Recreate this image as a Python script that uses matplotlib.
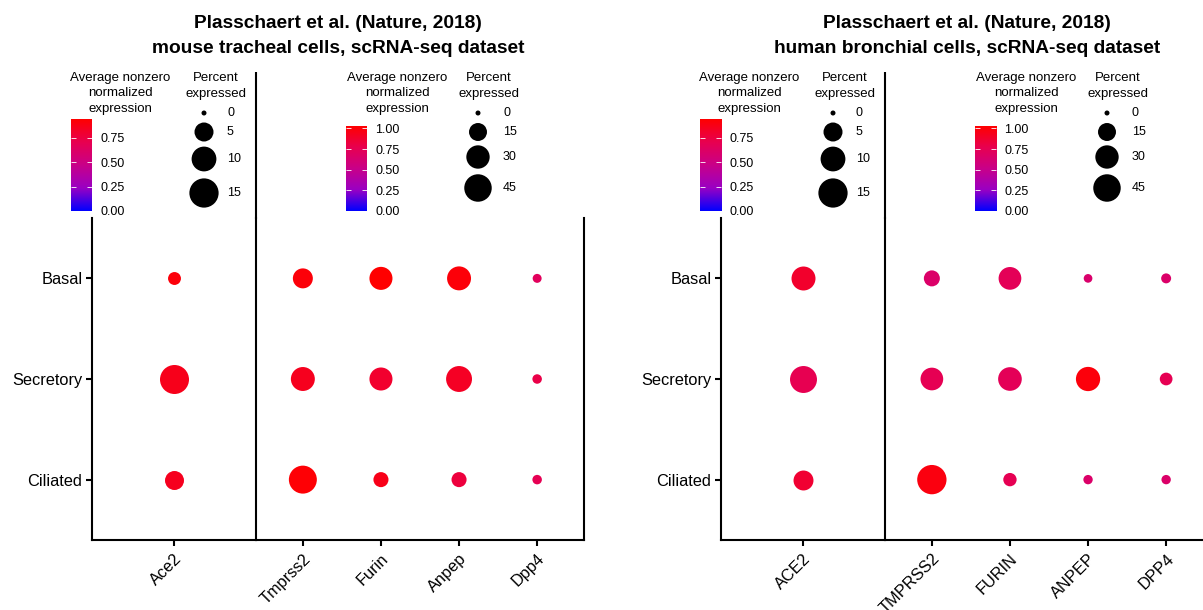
import numpy as np
import matplotlib
matplotlib.use('Agg')
import matplotlib.pyplot as plt
from matplotlib.colors import LinearSegmentedColormap

plt.rcParams['font.family'] = ['Liberation Sans', 'DejaVu Sans']

# ---- data (rows: Basal, Secretory, Ciliated) ----
cell_types = ['Basal', 'Secretory', 'Ciliated']

mouse_genes_a = ['Ace2']
mouse_genes_b = ['Tmprss2', 'Furin', 'Anpep', 'Dpp4']
mouse_pct_a = [[1.6], [14.7], [5.0]]
mouse_pct_b = [[20, 29, 32, 1.4],
               [32, 29, 39, 1.8],
               [47, 9, 9, 1.8]]
mouse_avg_a = [[0.91], [0.86], [0.85]]
mouse_avg_b = [[1.00, 1.03, 1.00, 0.72],
               [0.93, 0.88, 0.91, 0.80],
               [1.01, 0.95, 0.83, 0.76]]

human_genes_a = ['ACE2']
human_genes_b = ['TMPRSS2', 'FURIN', 'ANPEP', 'DPP4']
human_pct_a = [[9.2], [12.3], [5.7]]
human_pct_b = [[10.8, 28, 1.2, 2.2],
               [27.9, 31, 33, 5.3],
               [52.7, 6.2, 1.7, 1.7]]
human_avg_a = [[0.81], [0.70], [0.79]]
human_avg_b = [[0.66, 0.74, 0.65, 0.66],
               [0.76, 0.74, 0.99, 0.76],
               [0.98, 0.76, 0.66, 0.66]]

size_breaks_a = [0, 5, 10, 15]
size_breaks_b = [0, 15, 30, 45]
color_ticks_a = [0, 0.25, 0.5, 0.75]
color_ticks_b = [0, 0.25, 0.5, 0.75, 1.0]
vmax_a = 0.94
vmax_b = 1.03

W, H = 1203, 610
fig = plt.figure(figsize=(W / 100, H / 100), dpi=100)

cmap = LinearSegmentedColormap.from_list(
    'bluered', [(0, '#0000FF'), (0.25, '#9A00C3'), (0.5, '#C90089'),
                (0.75, '#E80050'), (1, '#FF0000')])


def dot_size(pct, k):
    d = 5 + k * np.sqrt(np.asarray(pct, dtype=float))  # diameter in px
    return (d * 0.72) ** 2


def rect(x0, x1, y0, y1):
    # pixel box (y from top) -> figure fraction
    return [x0 / W, 1 - y1 / H, (x1 - x0) / W, (y1 - y0) / H]


# overlay for legends / titles, in pixel units
ov = fig.add_axes([0, 0, 1, 1])
ov.set_xlim(0, W)
ov.set_ylim(H, 0)
ov.axis('off')

lw = 1.5


def dot_axes(x0, x1, genes, pct, avg, vmax, k, show_y, right_spine):
    ax = fig.add_axes(rect(x0, x1, 218, 540))
    ny = len(cell_types)
    for i, ct in enumerate(cell_types):
        yy = ny - i
        xs = np.arange(1, len(genes) + 1)
        ax.scatter(xs, [yy] * len(genes), s=dot_size(pct[i], k), c=avg[i],
                   cmap=cmap, vmin=0, vmax=vmax, linewidths=0, zorder=3)
    ax.set_xlim(0.4, len(genes) + 0.6)
    ax.set_ylim(0.4, ny + 0.6)
    ax.set_xticks(np.arange(1, len(genes) + 1))
    ax.set_xticklabels(genes, rotation=45, ha='right', va='top',
                       rotation_mode='anchor', fontsize=11.8)
    ax.set_yticks(np.arange(ny, 0, -1))
    ax.tick_params(width=lw, length=4, pad=3)
    ax.tick_params(axis='x', pad=4)
    if show_y:
        ax.set_yticklabels(cell_types, fontsize=11.8)
    else:
        ax.set_yticklabels([])
        ax.tick_params(axis='y', length=0)
    ax.spines['top'].set_visible(False)
    ax.spines['right'].set_visible(right_spine)
    for s in ['left', 'bottom', 'right']:
        ax.spines[s].set_linewidth(lw)
    ax.patch.set_alpha(0)
    return ax


def stacked(cx, lines, y0=78, step=15.5):
    for j, line in enumerate(lines):
        ov.text(cx, y0 + j * step, line, ha='center', va='center', fontsize=9.5)


def legend_block(cx_title, bx0, bx1, btop, vmax, cticks,
                 scx, sdx, sdy, slx, breaks, k):
    stacked(cx_title, ['Average nonzero', 'normalized', 'expression'])
    cax = fig.add_axes(rect(bx0, bx1, btop, 211))
    grad = np.linspace(0, vmax, 256).reshape(-1, 1)
    cax.imshow(grad, cmap=cmap, vmin=0, vmax=vmax, aspect='auto',
               origin='lower', extent=[0, 1, 0, vmax])
    cax.set_xticks([])
    cax.set_yticks(cticks)
    cax.set_yticklabels(['%.2f' % t for t in cticks], fontsize=9)
    cax.yaxis.tick_right()
    cax.tick_params(axis='y', direction='in', color='white', length=3.5,
                    width=0.6, left=True, right=True, pad=6)
    for s in cax.spines.values():
        s.set_visible(False)
    stacked(scx, ['Percent', 'expressed'])
    ov.scatter([sdx] * len(breaks), sdy, s=dot_size(breaks, k), c='black',
               linewidths=0)
    for b, yy in zip(breaks, sdy):
        ov.text(slx, yy, str(b), ha='left', va='center', fontsize=9)


def panel(dx, title1, title2, genes_a, genes_b, pct_a, pct_b, avg_a, avg_b,
          right_spine):
    k_a, k_b = 6.26, 3.35
    dot_axes(92 + dx, 256 + dx, genes_a, pct_a, avg_a, vmax_a, k_a, True, False)
    dot_axes(256 + dx, 584 + dx, genes_b, pct_b, avg_b, vmax_b, k_b, False,
             right_spine)
    ov.plot([256 + dx, 256 + dx], [72, 219], color='black', lw=lw,
            solid_capstyle='butt')
    cx = 338 + dx
    ov.text(cx, 28, title1, ha='center', va='baseline', fontsize=13.8,
            fontweight='bold')
    ov.text(cx, 53, title2, ha='center', va='baseline', fontsize=13.8,
            fontweight='bold')
    legend_block(120 + dx, 71 + dx, 92 + dx, 119, vmax_a, color_ticks_a,
                 216 + dx, 204 + dx, [113, 132, 159, 193], 227 + dx,
                 size_breaks_a, k_a)
    legend_block(397 + dx, 346 + dx, 367 + dx, 126, vmax_b, color_ticks_b,
                 489 + dx, 478 + dx, [113, 132, 157, 188], 503 + dx,
                 size_breaks_b, k_b)


panel(0, 'Plasschaert et al. (Nature, 2018)',
      'mouse tracheal cells, scRNA-seq dataset',
      mouse_genes_a, mouse_genes_b, mouse_pct_a, mouse_pct_b,
      mouse_avg_a, mouse_avg_b, True)
panel(629, 'Plasschaert et al. (Nature, 2018)',
      'human bronchial cells, scRNA-seq dataset',
      human_genes_a, human_genes_b, human_pct_a, human_pct_b,
      human_avg_a, human_avg_b, True)

fig.savefig('out.png', dpi=100)
